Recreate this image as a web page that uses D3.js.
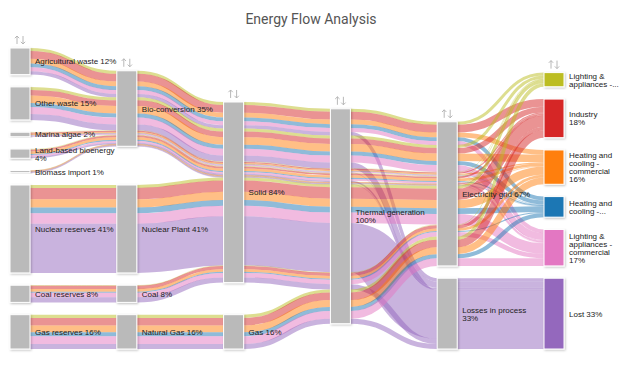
<!DOCTYPE html>
<html><head><meta charset="utf-8">
<script src="https://cdn.jsdelivr.net/npm/d3@7"></script>
<style>body{margin:0;background:#fff}svg{display:block}</style>
</head><body>
<svg id="chart" width="622" height="368"></svg>
<script>
// ---------------- data ----------------
const origins = ["Agricultural waste","Other waste","Marina algae","Land-based bioenergy","Biomass import","Nuclear reserves","Coal reserves","Gas reserves"];
const conversions = ["Bio-conversion","Bio-conversion","Bio-conversion","Bio-conversion","Bio-conversion","Nuclear Plant","Coal","Natural Gas"];
const fuels = ["Solid","Solid","Solid","Solid","Solid","Solid","Solid","Gas"];
const generation = "Thermal generation";
const distribution = ["Electricity grid","Electricity grid","Electricity grid","Electricity grid","Electricity grid","Losses in process"];
const endUses = ["Lighting & appliances - domestic","Industry","Heating and cooling - commercial","Heating and cooling - domestic","Lighting & appliances - commercial","Lost"];
const endColors = ["#bcbd22","#d62728","#ff7f0e","#1f77b4","#e377c2","#9467bd"];
// flows[origin][endUse] (percent of total energy)
const flows = [
  [1.4, 3.6, 2.2, 1.8, 1.8, 1.6],
  [1.4, 2.6, 3.5, 1.9, 3.2, 2.8],
  [0.2, 0.5, 0.6, 0.2, 0.4, 0.2],
  [0.3, 0.8, 1.2, 0.5, 0.8, 0.7],
  [0.1, 0.2, 0.3, 0.1, 0.2, 0.1],
  [1.4, 5.3, 3.8, 2.7, 4.9, 22.9],
  [0.3, 1.5, 1.2, 0.5, 2.1, 2.4],
  [1.5, 3.5, 3.2, 1.9, 3.6, 2.3]
];
const title = "Energy Flow Analysis";

// ---------------- graph ----------------
const width = 622, height = 368;
const nodeWidth = 20, nodePadding = 12.3;
const extentY = [48, 349];
const nLayers = 6;
const xScale = d3.scaleLinear().domain([0, nLayers - 1]).range([10, 544]);

const nodeMap = new Map();
const columns = d3.range(nLayers).map(() => []);
const paths = [];
origins.forEach((o, i) => endUses.forEach((e, j) => {
  const chain = [o, conversions[i], fuels[i], generation, distribution[j], e];
  const nodes = chain.map((name, k) => {
    let n = nodeMap.get(name);
    if (!n) { n = {name, layer: k, value: 0, paths: [], sourceLinks: [], targetLinks: [], end: k === nLayers - 1 ? j : -1}; nodeMap.set(name, n); columns[k].push(n); }
    return n;
  });
  const p = {value: flows[i][j], color: endColors[j], order: i * 6 + j, nodes, ys: []};
  nodes.forEach(n => { n.value += p.value; n.paths.push(p); });
  paths.push(p);
}));
const total = d3.sum(columns[0], n => n.value);

const linkMap = new Map();
paths.forEach(p => {
  for (let k = 0; k < nLayers - 1; k++) {
    const s = p.nodes[k], t = p.nodes[k + 1], key = s.name + "|" + t.name;
    let l = linkMap.get(key);
    if (!l) { l = {source: s, target: t, value: 0}; linkMap.set(key, l); s.sourceLinks.push(l); t.targetLinks.push(l); }
    l.value += p.value;
  }
});

// ---------------- layout (classic sankey relaxation, fixed node order) ----------------
const size = extentY[1] - extentY[0];
const ky = d3.min(columns, c => (size - (c.length - 1) * nodePadding) / d3.sum(c, n => n.value));
columns.forEach(c => c.forEach((n, i) => { n.y = i; n.dy = n.value * ky; }));
const center = n => n.y + n.dy / 2;
function resolveCollisions() {
  columns.forEach(nodes => {
    let y0 = 0, n = nodes.length, node, dy;
    for (let i = 0; i < n; ++i) { node = nodes[i]; dy = y0 - node.y; if (dy > 0) node.y += dy; y0 = node.y + node.dy + nodePadding; }
    dy = y0 - nodePadding - size;
    if (dy > 0) {
      y0 = node.y -= dy;
      for (let i = n - 2; i >= 0; --i) { node = nodes[i]; dy = node.y + node.dy + nodePadding - y0; if (dy > 0) node.y -= dy; y0 = node.y; }
    }
  });
}
function relaxLeftToRight(alpha) {
  columns.forEach(nodes => nodes.forEach(node => {
    if (node.targetLinks.length) {
      const y = d3.sum(node.targetLinks, l => center(l.source) * l.value) / d3.sum(node.targetLinks, l => l.value);
      node.y += (y - center(node)) * alpha;
    }
  }));
}
function relaxRightToLeft(alpha) {
  columns.slice().reverse().forEach(nodes => nodes.forEach(node => {
    if (node.sourceLinks.length) {
      const y = d3.sum(node.sourceLinks, l => center(l.target) * l.value) / d3.sum(node.sourceLinks, l => l.value);
      node.y += (y - center(node)) * alpha;
    }
  }));
}
resolveCollisions();
for (let alpha = 1, it = 32; it > 0; --it) {
  relaxRightToLeft(alpha *= 0.99); resolveCollisions();
  relaxLeftToRight(alpha); resolveCollisions();
}
columns.forEach(c => c.forEach(n => {
  n.y0 = extentY[0] + n.y; n.y1 = n.y0 + n.dy;
  n.x0 = xScale(n.layer); n.x1 = n.x0 + nodeWidth;
}));
nodeMap.forEach(n => {
  let y = n.y0;
  n.paths.slice().sort((a, b) => a.order - b.order).forEach(p => { p.ys[n.layer] = y; y += p.value * ky; });
});

// ---------------- draw ----------------
const svg = d3.select("#chart");
const defs = svg.append("defs");
const f = defs.append("filter").attr("id", "sh").attr("x", "-30%").attr("y", "-10%").attr("width", "160%").attr("height", "130%");
f.append("feDropShadow").attr("dx", 1).attr("dy", 1).attr("stdDeviation", 0.8).attr("flood-color", "#000").attr("flood-opacity", 0.25);

svg.append("text").attr("x", width / 2).attr("y", 24).attr("text-anchor", "middle")
  .style("font-family", "Roboto, sans-serif").style("font-size", "14px").style("fill", "#555").text(title);

const linkG = svg.append("g").attr("fill", "none");
paths.forEach(p => {
  const w = p.value * ky;
  for (let k = 0; k < nLayers - 1; k++) {
    const a = p.nodes[k], b = p.nodes[k + 1];
    const x0 = a.x1, x1 = b.x0, xi = d3.interpolateNumber(x0, x1);
    const ya = p.ys[k] + w / 2, yb = p.ys[k + 1] + w / 2;
    const dp = d3.path();
    dp.moveTo(x0, ya); dp.bezierCurveTo(xi(0.5), ya, xi(0.5), yb, x1, yb);
    linkG.append("path").attr("d", dp.toString()).attr("stroke", p.color)
      .attr("stroke-opacity", 0.5).attr("stroke-width", Math.max(0.5, w));
  }
});

const nodeG = svg.append("g");
const allNodes = Array.from(nodeMap.values());
nodeG.selectAll("rect").data(allNodes).join("rect")
  .attr("x", d => d.x0).attr("y", d => d.y0).attr("width", nodeWidth).attr("height", d => Math.max(1, d.dy))
  .attr("fill", d => d.end >= 0 ? endColors[d.end] : "#bababa")
  .attr("stroke", "#fff").attr("stroke-width", 1).attr("filter", "url(#sh)");

// drag handles (up/down arrows) above the first node of each column
columns.forEach(c => {
  const n = c[0];
  const cx = n.x0 + nodeWidth / 2, yb = n.y0 - 4;
  const g = svg.append("g").attr("stroke", "#b0b0b0").attr("stroke-width", 0.9).attr("fill", "none");
  g.append("path").attr("d", `M${cx - 3},${yb - 8}V${yb} M${cx - 5.2},${yb - 5.8}L${cx - 3},${yb - 8}L${cx - 0.8},${yb - 5.8}`);
  g.append("path").attr("d", `M${cx + 3},${yb - 8}V${yb} M${cx + 0.8},${yb - 2.2}L${cx + 3},${yb}L${cx + 5.2},${yb - 2.2}`);
});

// labels
const labelG = svg.append("g").style("font-family", "'Liberation Sans', Arial, sans-serif").style("font-size", "8px").style("fill", "#222");
const meas = labelG.append("text").attr("x", -999).attr("y", -999);
const tw = s => { meas.text(s); return meas.node().getComputedTextLength(); };
const lh = 8;
allNodes.forEach(n => {
  const pct = Math.round(n.value / total * 100);
  const words = (n.name + " " + pct + "%").split(" ");
  const maxW = n.layer === nLayers - 1 ? 45 : 82;
  let lines = [], cur = "";
  words.forEach(w => { const t = cur ? cur + " " + w : w; if (tw(t) <= maxW || !cur) cur = t; else { lines.push(cur); cur = w; } });
  lines.push(cur);
  const maxLines = Math.max(2, Math.floor(n.dy / lh));
  if (lines.length > maxLines) { lines = lines.slice(0, maxLines); lines[maxLines - 1] += "..."; }
  const cy = (n.y0 + n.y1) / 2;
  const t = labelG.append("text").attr("x", n.x1 + 5);
  lines.forEach((s, i) => t.append("tspan").attr("x", n.x1 + 5).attr("y", cy - (lines.length - 1) * lh / 2 + i * lh + 3).text(s));
});
meas.remove();
</script>
</body></html>
